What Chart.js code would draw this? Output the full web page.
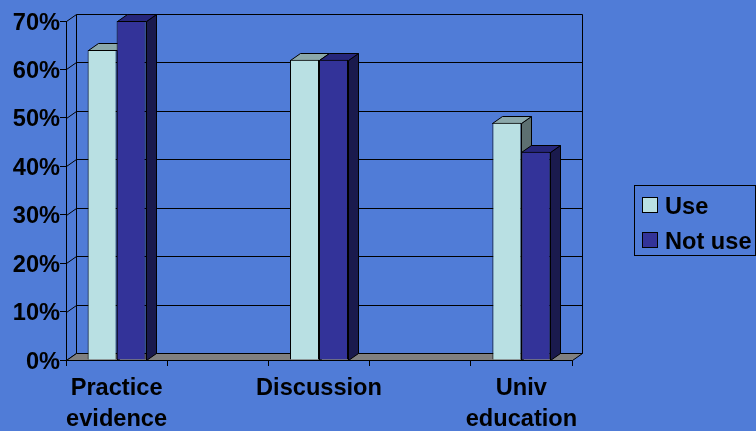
<!DOCTYPE html>
<html>
<head>
<meta charset="utf-8">
<style>
  html, body { margin: 0; padding: 0; background: #507CD7; overflow: hidden; }
  #wrap { position: absolute; left: 0; top: 0; width: 756px; height: 431px; }
</style>
<script src="https://cdn.jsdelivr.net/npm/chart.js@4"></script>
</head>
<body>
<div id="wrap"><canvas id="c" width="756" height="431"></canvas></div>
<script>
// Chart content
const categories = [['Practice', 'evidence'], '', 'Discussion', '', ['Univ', 'education']];
const useValues = [64, null, 62, null, 49];
const notUseValues = [70, null, 62, null, 43];
const seriesNames = ['Use', 'Not use'];
const yTicks = [0, 10, 20, 30, 40, 50, 60, 70];

// Faces of each series: front, top, side
const frontColors = ['#B9E0E3', '#333399'];
const topColors = ['#8BA8AA', '#26267A'];
const sideColors = ['#5D7071', '#1A1A4D'];

// Oblique offset of the back plane relative to the front plane
const DEPTH_X = 10;
const DEPTH_Y = -7;
const FONT_SIZE = 23.6;
const FONT_FAMILY = '"Liberation Sans", Arial, sans-serif';

function poly(ctx, pts, fill) {
  ctx.beginPath();
  pts.forEach((p, i) => i ? ctx.lineTo(p[0], p[1]) : ctx.moveTo(p[0], p[1]));
  ctx.closePath();
  if (fill) { ctx.fillStyle = fill; ctx.fill(); }
  ctx.stroke();
}

// Back wall, side wall, floor and the extruded top/side faces of the bars
const box3d = {
  id: 'box3d',
  beforeDatasetsDraw(chart) {
    const { ctx, chartArea: a, scales: { y } } = chart;
    const dx = DEPTH_X, dy = DEPTH_Y;
    ctx.save();
    ctx.strokeStyle = '#000';
    ctx.lineWidth = 1;
    ctx.translate(0.5, 0.5);
    // grid lines wrap from the side wall onto the back wall
    yTicks.forEach(v => {
      const py = Math.round(y.getPixelForValue(v));
      ctx.beginPath();
      ctx.moveTo(a.left, py);
      ctx.lineTo(a.left + dx, py + dy);
      ctx.lineTo(a.right + dx, py + dy);
      ctx.stroke();
    });
    const top = Math.round(a.top), bot = Math.round(a.bottom);
    ctx.beginPath();
    ctx.moveTo(a.left + dx, top + dy);
    ctx.lineTo(a.left + dx, bot + dy);
    ctx.moveTo(a.right + dx, top + dy);
    ctx.lineTo(a.right + dx, bot + dy);
    ctx.stroke();
    poly(ctx, [[a.left, bot], [a.left + dx, bot + dy], [a.right + dx, bot + dy], [a.right, bot]], '#808080');
    // top and side faces, first series first so the second overlaps it
    chart.data.datasets.forEach((ds, i) => {
      chart.getDatasetMeta(i).data.forEach((bar, j) => {
        if (ds.data[j] == null) return;
        const l = Math.round(bar.x - bar.width / 2);
        const r = Math.round(bar.x + bar.width / 2);
        const t = Math.round(bar.y);
        poly(ctx, [[r, t], [r + dx, t + dy], [r + dx, bot + dy], [r, bot]], sideColors[i]);
        poly(ctx, [[l, t], [l + dx, t + dy], [r + dx, t + dy], [r, t]], topColors[i]);
      });
    });
    ctx.restore();
  }
};

// Boxed legend to the right of the plot
const boxLegend = {
  id: 'boxLegend',
  afterDraw(chart) {
    const { ctx } = chart;
    ctx.save();
    ctx.strokeStyle = '#000';
    ctx.lineWidth = 1;
    ctx.strokeRect(634.5, 185.5, 121, 70);
    ctx.font = 'bold ' + FONT_SIZE + 'px ' + FONT_FAMILY;
    ctx.textBaseline = 'middle';
    chart.data.datasets.forEach((ds, i) => {
      const cy = 205 + i * 35;
      ctx.fillStyle = frontColors[i];
      ctx.fillRect(642.5, cy - 7.5, 15, 15);
      ctx.strokeRect(642.5, cy - 7.5, 15, 15);
      ctx.fillStyle = '#000';
      ctx.fillText(ds.label, 665, cy + 2);
    });
    ctx.restore();
  }
};

new Chart(document.getElementById('c'), {
  type: 'bar',
  data: {
    labels: categories,
    datasets: [
      { label: seriesNames[0], data: useValues, backgroundColor: frontColors[0] },
      { label: seriesNames[1], data: notUseValues, backgroundColor: frontColors[1] }
    ]
  },
  plugins: [box3d, boxLegend],
  options: {
    responsive: false,
    animation: false,
    layout: { padding: { top: 21, left: 0, right: 184, bottom: 0 } },
    datasets: {
      bar: {
        categoryPercentage: 0.573,
        barPercentage: 1,
        borderColor: '#000',
        borderWidth: 1
      }
    },
    plugins: { legend: { display: false }, tooltip: { enabled: false } },
    scales: {
      x: {
        offset: true,
        afterFit(scale) { scale.height = 71; },
        border: { color: '#000', width: 1 },
        grid: { drawOnChartArea: false, color: '#000', tickLength: 6, offset: true },
        ticks: {
          color: '#000',
          autoSkip: false,
          maxRotation: 0,
          padding: 7,
          font: { family: FONT_FAMILY, weight: 'bold', size: FONT_SIZE, lineHeight: 1.32 }
        }
      },
      y: {
        min: 0,
        max: 70,
        afterFit(scale) { scale.width = 66; },
        afterBuildTicks(scale) { scale.ticks = yTicks.map(value => ({ value })); },
        border: { color: '#000', width: 1 },
        grid: { drawOnChartArea: false, color: '#000', tickLength: 6 },
        ticks: {
          color: '#000',
          padding: 0,
          labelOffset: 2,
          callback: v => v + '%',
          font: { family: FONT_FAMILY, weight: 'bold', size: FONT_SIZE }
        }
      }
    }
  }
});
</script>
</body>
</html>
